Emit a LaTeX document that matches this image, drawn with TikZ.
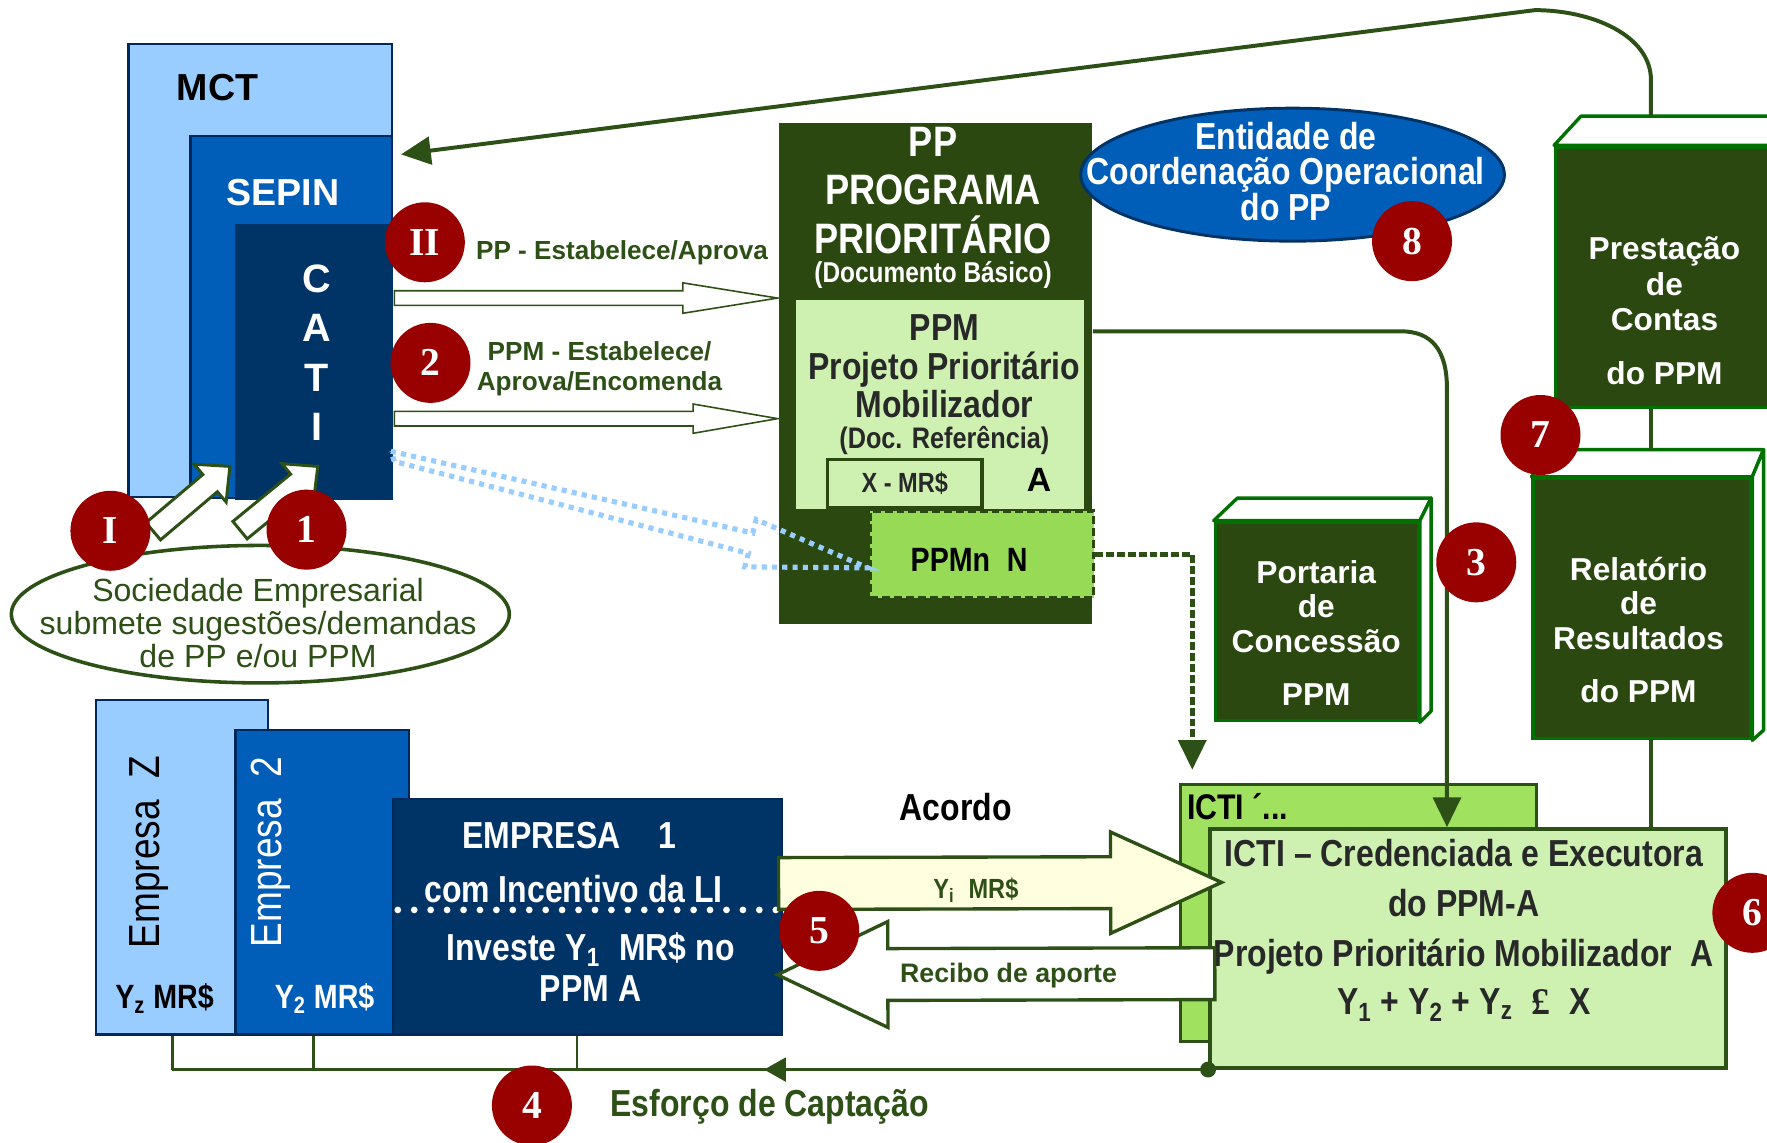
\documentclass[tikz,border=0pt]{standalone}
\usepackage{fontspec}
\setmainfont{Liberation Sans}
\newfontfamily\narrowfont[FakeStretch=0.85]{Liberation Sans}
\newfontfamily\numfont{Liberation Serif}
\usetikzlibrary{arrows.meta,calc,shapes.geometric}

\definecolor{mctblue}{RGB}{153,204,255}
\definecolor{sepinblue}{RGB}{0,94,184}
\definecolor{catinavy}{RGB}{0,51,102}
\definecolor{navyline}{RGB}{0,40,90}
\definecolor{ppgreen}{RGB}{43,72,16}
\definecolor{linegreen}{RGB}{45,80,22}
\definecolor{bookedge}{RGB}{0,112,0}
\definecolor{palegreen}{RGB}{206,241,178}
\definecolor{ppmngreen}{RGB}{150,218,86}
\definecolor{ictigreen}{RGB}{160,226,96}
\definecolor{numred}{RGB}{153,0,0}
\definecolor{paleyellow}{RGB}{255,255,224}
\definecolor{ink}{RGB}{40,40,40}

% block arrow: [style]{from}{to}{shaft half width}{head half width}{head length}
\newcommand{\blockarrow}[6][]{%
	\coordinate (ba-s) at (#2);
	\coordinate (ba-e) at (#3);
	\coordinate (ba-h) at ($(ba-e)!#6!(ba-s)$);
	\draw[#1] ($(ba-s)!#4!90:(ba-e)$) -- ($(ba-h)!#4!-90:(ba-s)$)
		-- ($(ba-h)!#5!-90:(ba-s)$) -- (ba-e) -- ($(ba-h)!#5!90:(ba-s)$)
		-- ($(ba-h)!#4!90:(ba-s)$) -- ($(ba-s)!#4!-90:(ba-e)$) -- cycle;
}

\begin{document}
\begin{tikzpicture}[x=0.02cm,y=-0.02cm,
	>={Triangle[length=15pt,width=14pt]},
	box/.style={draw=navyline,line width=1.1pt,anchor=north west,inner sep=0pt},
	bookfront/.style={draw=bookedge,line width=1.7pt,fill=ppgreen,anchor=north west,inner sep=0pt},
	bookside/.style={draw=bookedge,line width=1.7pt,fill=white,line join=round},
	conn/.style={draw=linegreen,line width=2pt},
	num/.style={circle,fill=numred,text=white,minimum size=1.42cm,inner sep=0pt,font=\numfont\bfseries\fontsize{20}{20}\selectfont},
	fatarrow/.style={draw=linegreen,line width=1.5pt,fill=white},
	thinarrow/.style={draw=linegreen,line width=0.8pt,fill=white},
	bigarrow/.style={draw=linegreen,line width=1.7pt},
	dotline/.style={draw=mctblue,line width=2.6pt,dash pattern=on 2.6pt off 2.6pt},
	wb/.style 2 args={font=\bfseries\fontsize{#1}{#2}\selectfont},
	wr/.style 2 args={font=\fontsize{#1}{#2}\selectfont},
	nb/.style 2 args={font=\narrowfont\bfseries\fontsize{#1}{#2}\selectfont}]
	\useasboundingbox (0,0) rectangle (1568,1014);
	\clip (0,0) rectangle (1568,1014);
	
	% MCT / SEPIN / CATI
	\node[box,fill=mctblue,minimum width=4.68cm,minimum height=8.04cm] (mct) at (113,38) {};
	\node[box,fill=sepinblue,minimum width=3.58cm,minimum height=6.42cm] (sepin) at (168,120) {};
	\node[box,draw=none,fill=catinavy,minimum width=2.80cm,minimum height=4.90cm] (cati) at (208,198) {};
	\node[wb={19}{19}] (mctlbl) at (193,78) {MCT};
	\node[wb={19}{19},white] (sepinlbl) at (251,171) {SEPIN};
	\node[wb={20}{25},white,align=center] (catilbl) at (281,313) {C\\A\\T\\I};
	
	% sociedade empresarial
	\node[ellipse,draw=linegreen,line width=1.8pt,fill=white,minimum width=8.84cm,minimum height=2.44cm,inner sep=0pt] (soc) at (231,545) {};
	\node[wr={16.2}{16.8},text=linegreen,align=center] (soclbl) at (229,553) {Sociedade Empresarial\\submete sugestões/demandas\\de PP e/ou PPM};
	\blockarrow[fatarrow]{$(soc.north)+(-95,-11)$}{$(sepin.south west)+(36,-29)$}{0.2cm}{0.44cm}{0.46cm}
	\blockarrow[fatarrow]{$(soc.north)+(-18,-12)$}{$(cati.south west)+(74,-31)$}{0.2cm}{0.44cm}{0.46cm}
	
	% PP / PPM
	\node[box,draw=none,fill=ppgreen,minimum width=5.56cm,minimum height=8.90cm] (pp) at (690,108) {};
	\node[nb={21.5}{24.5},white,align=center] (pplbl) at (828,169) {PP\\PROGRAMA\\PRIORITÁRIO};
	\node[nb={14.5}{14.5},white] (ppdoc) at (828,244) {(Documento Básico)};
	\node[box,draw=none,fill=palegreen,minimum width=5.12cm,minimum height=3.72cm] (ppm) at (705,265) {};
	\node[nb={19}{19.3},text=ink,align=center] (ppmlbl) at (838,325) {PPM\\Projeto Prioritário\\Mobilizador};
	\node[nb={15}{15},text=ink] (ppmdoc) at (838,391) {(Doc. Referência)};
	\node[box,draw=ppgreen,line width=1.6pt,minimum width=2.74cm,minimum height=0.86cm,nb={14}{14},text=ink] (xmr) at (733,406) {X - MR\$};
	\node[wb={17}{17}] (ppma) at (922,426) {A};
	\node[box,draw=ppgreen,line width=1.6pt,dash pattern=on 4pt off 2pt,fill=ppmngreen,minimum width=3.96cm,minimum height=1.54cm] (ppmn) at (771,452) {};
	\node[nb={17}{17}] (ppmnlbl) at (860,497) {PPMn\enspace N};
	
	% CATI -> PP
	\blockarrow[thinarrow]{cati.east |- 0,264.5}{pp.west |- 0,264.5}{0.13cm}{0.27cm}{1.68cm}
	\blockarrow[thinarrow]{cati.east |- 0,371.5}{pp.west |- 0,371.5}{0.13cm}{0.26cm}{1.5cm}
	\draw[dotline] ($(cati.east)+(-3,79)$) -- (668,473) -- (671,461) -- ($(ppmn.west)+(-1,12)$) -- (661,503) -- (664,491) -- ($(cati.east)+(0,88)$) -- cycle;
	\node[wb={13.2}{13.2},text=linegreen] (iilbl) at (552,224) {PP - Estabelece/Aprova};
	\node[wb={13.2}{15.4},text=linegreen,align=center] (twolbl) at (532,327) {PPM - Estabelece/\\Aprova/Encomenda};
	
	% entidade
	\node[ellipse,draw=catinavy,line width=1.5pt,fill=sepinblue,minimum width=7.52cm,minimum height=2.36cm,inner sep=0pt] (ent) at (1147,155) {};
	\node[nb={19}{18},white,align=center] (entlbl) at (1141,152) {Entidade de\\Coordenação Operacional\\do PP};
	
	% books
	\node[bookfront,minimum width=4.2cm,minimum height=4.62cm] (prest) at (1379,129) {};
	\draw[bookside] (prest.north west) -- ++(24,-26) -- ($(prest.north east)+(10,-26)$) -- (prest.north east) -- cycle;
	\node[wb={16}{17.9},white,align=center] (prestlbl) at (1477,276) {Prestação\\de\\Contas\\[9.4pt]do PPM};
	
	\node[bookfront,minimum width=3.86cm,minimum height=4.62cm] (relat) at (1359,423) {};
	\draw[bookside] (relat.north west) -- ++(19,-24) coordinate (relat-back) -- ($(relat.north east)+(10,-24)$) -- (relat.north east) -- cycle;
	\draw[bookside] (relat.north east) -- ++(10,-24) -- ($(relat.south east)+(10,-9)$) -- (relat.south east) -- cycle;
	\node[wb={16}{17.4},white,align=center] (relatlbl) at (1454,559) {Relatório\\de\\Resultados\\[9.3pt]do PPM};
	
	\node[bookfront,minimum width=3.60cm,minimum height=3.52cm] (port) at (1077,462) {};
	\draw[bookside] (port.north west) -- ++(21,-20) -- ($(port.north east)+(10,-20)$) -- (port.north east) -- cycle;
	\draw[bookside] (port.north east) -- ++(10,-20) -- ($(port.south east)+(10,-10)$) -- (port.south east) -- cycle;
	\node[wb={16}{17.6},white,align=center] (portlbl) at (1168,561.5) {Portaria\\de\\Concessão\\[9pt]PPM};
	
	% ICTI
	\node[box,draw=linegreen,line width=1.5pt,fill=ictigreen,minimum width=6.32cm,minimum height=4.56cm] (ictib) at (1046,695) {};
	\node[nb={18}{18},anchor=west,inner sep=0pt] (ictiblbl) at (1053,716) {ICTI ´...};
	\node[box,draw=linegreen,line width=1.8pt,fill=palegreen,minimum width=9.16cm,minimum height=4.24cm] (ictif) at (1072,734) {};
	\node[nb={19}{25.3},text=ink,align=center] (ictiflbl) at (1299,805) {ICTI – Credenciada e Executora\\do PPM-A\\Projeto Prioritário Mobilizador\enspace A};
	\node[nb={19}{19},text=ink] (ictisum) at (1299,892) {Y\textsubscript{1} + Y\textsubscript{2} + Y\textsubscript{z}\enspace{\numfont £}\enspace X};
	
	% empresas
	\node[box,fill=mctblue,minimum width=3.06cm,minimum height=5.94cm] (empz) at (84,620) {};
	\node[box,fill=sepinblue,minimum width=3.08cm,minimum height=5.40cm] (emp2) at (208,647) {};
	\node[box,fill=catinavy,minimum width=6.90cm,minimum height=4.18cm] (emp1) at (348,708) {};
	\node[rotate=90,font=\narrowfont\fontsize{22}{22}\selectfont] (empzlbl) at (132,756) {Empresa\enspace Z};
	\node[rotate=90,white,font=\narrowfont\fontsize{22}{22}\selectfont] (emp2lbl) at (240,756) {Empresa\enspace 2};
	\node[nb={17}{17}] (yz) at (146,886) {Y\textsubscript{z} MR\$};
	\node[nb={17}{17},white] (y2) at (288,886) {Y\textsubscript{2} MR\$};
	\node[nb={19}{19},white] (emp1a) at (505,741) {EMPRESA\quad 1};
	\node[nb={19}{19},white] (emp1b) at (509,789) {com Incentivo da LI};
	\draw[white,line width=3.4pt,line cap=round,dash pattern=on 0pt off 8.3pt] ($(emp1.west)+(5,-6)$) -- ($(emp1.east)+(-3,-6)$);
	\node[nb={19}{20.5},white,align=center] (emp1c) at (524,858) {Investe Y\textsubscript{1}\enspace MR\$ no\\PPM A};
	\node[nb={19}{19}] (acordo) at (848,716) {Acordo};
	
	% acordo / recibo
	\blockarrow[bigarrow,fill=paleyellow]{$(emp1.north east)+(-4,76)$}{$(ictif.north west)+(12,49)$}{0.46cm}{0.9cm}{1.97cm}
	\blockarrow[bigarrow,fill=white]{$(ictif.north west)+(6,130)$}{$(emp1.north east)+(-5,157)$}{0.46cm}{0.94cm}{1.96cm}
	\node[nb={14}{14},text=linegreen] (yilbl) at (866,790) {Y\textsubscript{i}\enspace MR\$};
	\node[wb={13.5}{13.5},text=linegreen] (recibolbl) at (895,866) {Recibo de aporte};
	
	% connectors
	\draw[conn,->] ($(prest.north west)+(86,-26)$) -- ++(0,-32) .. controls +(0,-40) and +(50,0) .. (1362,9) -- ($(mct.north east)+(7,99)$);
	\draw[conn,->] (pp.east |- 0,294) -- (1243,294) .. controls (1270,294) and (1284,310) .. (1284,345) -- (1284,0 |- ictif.north);
	\draw[conn] (1465,0 |- prest.south) -- (1465,0 |- relat-back);
	\draw[conn] (1465,0 |- relat.south) -- (1465,0 |- ictif.north);
	\draw[conn,line width=2.3pt,dash pattern=on 4pt off 1.5pt,shorten >=6.8pt,->] (ppmn.east) -- (1058,0 |- ppmn.east) -- (1058,0 |- ictib.north);
	
	% esforco de captacao
	\fill[linegreen] (ictif.south west) circle (4pt);
	\draw[conn,line width=1.4pt] (ictif.south west) -- (153,0 |- ictif.south west);
	\draw[conn,line width=1.4pt,-{Triangle[length=11pt,width=12pt]}] (ictif.south west) -- (678,0 |- ictif.south west);
	\foreach \tx in {153,278,512}
		\draw[conn,line width=1.4pt] (\tx,0 |- emp1.south) -- (\tx,0 |- ictif.south west);
	\node[nb={19}{19},text=linegreen] (esforco) at (683,982) {Esforço de Captação};
	
	% numbered steps
	\foreach \nm/\lbl/\px/\py in {cI/I/98/471, c1/1/272/470, cII/II/377/215, c2/2/382/322, c3/3/1310/499, c4/4/472/981, c5/5/727/826, c6/6/1555/810, c7/7/1367/386, c8/8/1253/214}
		\node[num] (\nm) at (\px,\py) {\lbl};
\end{tikzpicture}
\end{document}
